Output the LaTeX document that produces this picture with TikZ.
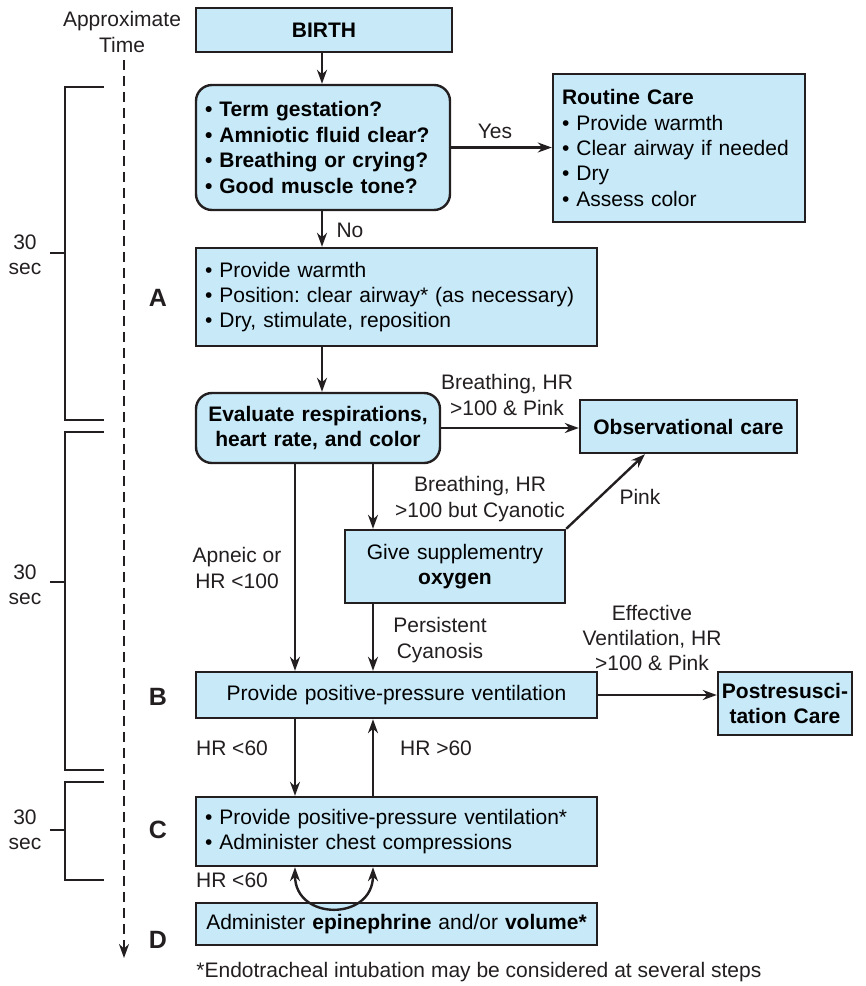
\documentclass[tikz,border=0pt]{standalone}
\usepackage{fontspec}
\setmainfont{Liberation Sans}
\usetikzlibrary{arrows.meta}
\frenchspacing

\definecolor{boxblue}{RGB}{199,233,248}
\definecolor{inkdark}{RGB}{35,31,32}
\newcommand{\stepfont}{\fontsize{10.5}{12.7}\selectfont}
\newcommand{\bul}{\textbullet\ }

\tikzset{
  stepbox/.style={draw=inkdark, line width=1.2pt, fill=boxblue, inner xsep=4.5pt, inner ysep=2pt, font=\stepfont},
  roundbox/.style={stepbox, rounded corners=8pt},
  lbl/.style={align=center, font=\stepfont, text=inkdark, inner sep=0pt},
  phase/.style={font=\fontsize{12.5}{14}\selectfont\bfseries, text=inkdark, inner sep=0pt},
  flow/.style={->, line width=1.2pt, draw=inkdark},
  brace/.style={line width=1.2pt, draw=inkdark},
}

\begin{document}
\begin{tikzpicture}[x=0.5pt, y=-0.5pt, >={Stealth[length=7pt,width=5pt]}]
    \useasboundingbox (0,0) rectangle (866,986);

    % Time axis
    \node[lbl] (timeL) at (122,32) {Approximate\\Time};
    \draw[line width=1.2pt, draw=inkdark, dash pattern=on 5pt off 3pt, ->] (124,60) -- (124,958);

    % 30 sec brackets
    \draw[brace] (104,87) -- (65,87) -- (65,420) -- (104,420) (50,253) -- (65,253);
    \draw[brace] (104,432) -- (65,432) -- (65,770) -- (104,770) (50,582) -- (65,582);
    \draw[brace] (104,782) -- (65,782) -- (65,880) -- (104,880) (50,830) -- (65,830);
    \node[lbl] (secA) at (25,255) {30\\sec};
    \node[lbl] (secB) at (25,585) {30\\sec};
    \node[lbl] (secC) at (25,830) {30\\sec};

    % Step letters
    \node[phase] (letA) at (158,298) {A};
    \node[phase] (letB) at (158,697) {B};
    \node[phase] (letC) at (158,830) {C};
    \node[phase] (letD) at (158,940) {D};

    % Arrow columns
    \coordinate (colM) at (322,0);
    \coordinate (colL) at (295,0);
    \coordinate (colR) at (373,0);
    \coordinate (colP) at (645,0);

    % Boxes
    \node[stepbox, text width=119pt, minimum height=22pt, align=center, font=\stepfont\bfseries] (birth) at (324,30) {BIRTH};
    \node[roundbox, text width=118pt, minimum height=62.5pt, align=left, font=\stepfont\bfseries] (quest) at (323,147.5)
        {\bul Term gestation?\\\bul Amniotic fluid clear?\\\bul Breathing or crying?\\\bul Good muscle tone?};
    \node[stepbox, text width=117pt, minimum height=74pt, align=left] (routine) at (679,148)
        {\textbf{Routine Care}\\\bul Provide warmth\\\bul Clear airway if needed\\\bul Dry\\\bul Assess color};
    \node[stepbox, text width=191.5pt, minimum height=49pt, align=left] (stepA) at (396.5,297)
        {\bul Provide warmth\\\bul Position: clear airway* (as necessary)\\\bul Dry, stimulate, reposition};
    \node[roundbox, text width=113pt, minimum height=35pt, align=center, font=\stepfont\bfseries] (evalc) at (318,428)
        {Evaluate respirations,\\heart rate, and color};
    \node[stepbox, text width=99.5pt, minimum height=26.5pt, align=center, font=\stepfont\bfseries] (obs) at (688.5,426.5)
        {Observational care};
    \node[stepbox, text width=101pt, minimum height=36.5pt, align=center] (oxy) at (455,566.5)
        {Give supplementry\\\textbf{oxygen}};
    \node[stepbox, text width=191.5pt, minimum height=23pt, align=center] (ppv) at (396.5,695)
        {Provide positive-pressure ventilation};
    \node[stepbox, inner xsep=1.5pt, text width=64pt, minimum height=31.5pt, align=center, font=\stepfont\bfseries] (post) at (785,703.5)
        {Postresusci-\\tation Care};
    \node[stepbox, text width=191.5pt, minimum height=34.5pt, align=left] (stepC) at (396.5,831.5)
        {\bul Provide positive-pressure ventilation*\\\bul Administer chest compressions};
    \node[stepbox, text width=191.5pt, minimum height=21pt, align=center] (stepD) at (396.5,924)
        {Administer \textbf{epinephrine} and/or \textbf{volume*}};

    % Connectors
    \draw[flow] (birth.south -| colM) -- (quest.north -| colM);
    \draw[flow] (quest.east) -- (quest.east -| routine.west);
    \draw[flow] (quest.south -| colM) -- (stepA.north -| colM);
    \draw[flow] (stepA.south -| colM) -- (evalc.north -| colM);
    \draw[flow] (evalc.east) -- (evalc.east -| obs.west);
    \draw[flow] (evalc.south -| colR) -- (oxy.north -| colR);
    \draw[flow] (evalc.south -| colL) -- (ppv.north -| colL);
    \draw[flow] (oxy.north east) -- (obs.south -| colP);
    \draw[flow] (oxy.south -| colR) -- (ppv.north -| colR);
    \draw[flow] (ppv.east) -- (ppv.east -| post.west);
    \draw[flow] (ppv.south -| colL) -- (stepC.north -| colL);
    \draw[flow] (stepC.north -| colR) -- (ppv.south -| colR);
    \draw[flow, <->] (stepC.south -| colL) .. controls +(0,54) and +(0,54) .. (stepC.south -| colR);

    % Connector labels
    \node[lbl] (yesL) at (495,131) {Yes};
    \node[lbl] (noL) at (350,230) {No};
    \node[lbl] (pinkL) at (507,395) {Breathing, HR\\>100 \& Pink};
    \node[lbl] (cyanL) at (480,499) {Breathing, HR\\>100 but Cyanotic};
    \node[lbl] (pinkOxL) at (640,497) {Pink};
    \node[lbl] (apneaL) at (237,568) {Apneic or\\HR <100};
    \node[lbl] (persL) at (440,640) {Persistent\\Cyanosis};
    \node[lbl] (effL) at (652,638) {Effective\\Ventilation, HR\\>100 \& Pink};
    \node[lbl] (lowL) at (232,748) {HR <60};
    \node[lbl] (highL) at (436,748) {HR >60};
    \node[lbl] (loopL) at (232,880) {HR <60};

    % Footnote
    \node[lbl, anchor=west] (footL) at (196,972) {*Endotracheal intubation may be considered at several steps};
\end{tikzpicture}
\end{document}
